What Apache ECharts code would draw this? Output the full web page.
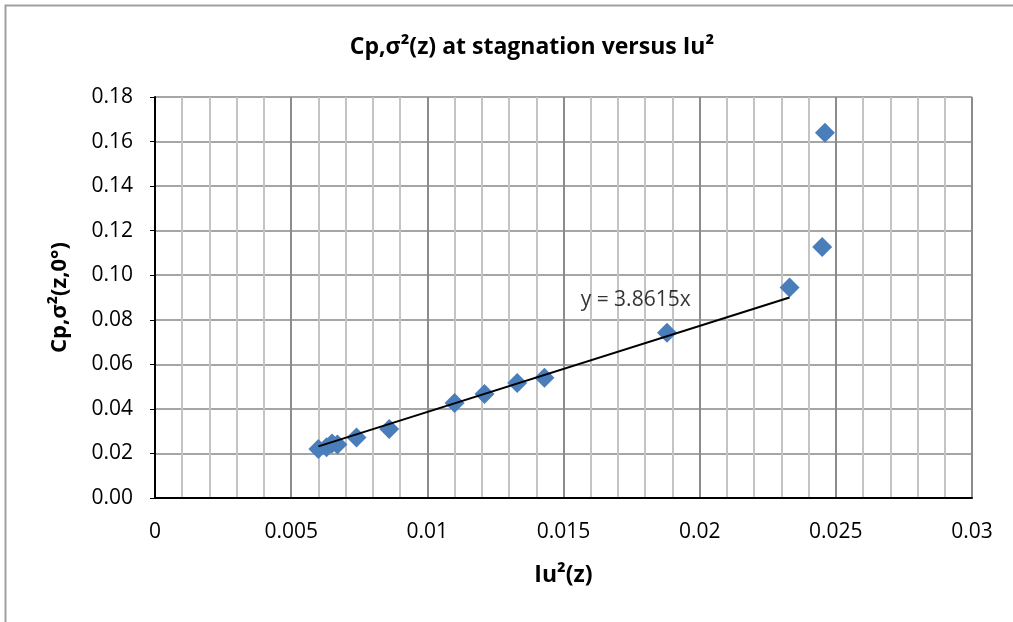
<!DOCTYPE html>
<html>
<head>
<meta charset="utf-8">
<script src="https://cdn.jsdelivr.net/npm/echarts@6/dist/echarts.min.js"></script>
<style>
html,body{margin:0;padding:0;background:#fff;}
#c{width:1013px;height:622px;}
</style>
</head>
<body>
<div id="c"></div>
<script>
// Data
var xValues = [0.0060, 0.0063, 0.0065, 0.0067, 0.0074, 0.0086, 0.0110, 0.0121, 0.0133, 0.0143, 0.0188, 0.0233, 0.0245, 0.0246];
var yValues = [0.0220, 0.0228, 0.0245, 0.0240, 0.0272, 0.0310, 0.0426, 0.0467, 0.0516, 0.0540, 0.0742, 0.0945, 0.1127, 0.1640];
var trendSlope = 3.8615;
var trendRange = [0.0060, 0.0233];
var trendLabel = 'y = 3.8615x';
var trendLabelAt = [0.01765, 0.0889];
var xTicks = [0, 0.005, 0.01, 0.015, 0.02, 0.025, 0.03];
var yTicks = [0, 0.02, 0.04, 0.06, 0.08, 0.10, 0.12, 0.14, 0.16, 0.18];

var points = xValues.map(function(x, i){ return [x, yValues[i]]; });
var trendData = trendRange.map(function(x){ return [x, trendSlope * x]; });

var font = 'Open Sans';
var chart = echarts.init(document.getElementById('c'));
chart.setOption({
  animation: false,
  backgroundColor: '#fff',
  graphic: [{
    type: 'rect', shape: {x: 5.5, y: 5.5, width: 1020, height: 640},
    style: {fill: 'none', stroke: '#a0a0a0', lineWidth: 2}, silent: true
  }],
  title: {
    text: 'Cp,σ²(z) at stagnation versus Iu²',
    left: 527, top: 31, textAlign: 'center',
    textStyle: {fontFamily: font, fontWeight: 'bold', fontSize: 23, color: '#000'}
  },
  grid: {left: 155, top: 97, right: 41, bottom: 124, containLabel: false},
  xAxis: {
    type: 'value', min: xTicks[0], max: xTicks[xTicks.length-1], interval: 0.005,
    name: 'Iu²(z)', nameLocation: 'middle', nameGap: 66,
    nameTextStyle: {fontFamily: font, fontWeight: 'bold', fontSize: 23, color: '#000'},
    axisLine: {show: true, lineStyle: {color: '#000', width: 2}},
    axisTick: {show: false},
    axisLabel: {fontFamily: font, fontSize: 21, color: '#000', margin: 24,
      formatter: function(v){ return String(parseFloat(v.toFixed(4))); }},
    splitLine: {show: true, lineStyle: {color: '#8c8c8c', width: 2}},
    minorTick: {show: false, splitNumber: 5},
    minorSplitLine: {show: true, lineStyle: {color: '#c4c4c4', width: 2}}
  },
  yAxis: {
    type: 'value', min: yTicks[0], max: yTicks[yTicks.length-1], interval: 0.02,
    name: 'Cp,σ²(z,0°)', nameLocation: 'middle', nameGap: 84, nameRotate: 90,
    nameTextStyle: {fontFamily: font, fontWeight: 'bold', fontSize: 22, color: '#000'},
    axisLine: {show: true, lineStyle: {color: '#000', width: 2}},
    axisTick: {show: true, length: 5, lineStyle: {color: '#000', width: 1}},
    axisLabel: {fontFamily: font, fontSize: 21, color: '#000', margin: 22,
      formatter: function(v){ return v.toFixed(2); }},
    splitLine: {show: true, lineStyle: {color: '#a6a6a6', width: 2}}
  },
  series: [
    {
      type: 'scatter', data: points, symbol: 'diamond', symbolSize: 20,
      itemStyle: {color: '#4A7EBB', opacity: 1}, z: 3
    },
    {
      type: 'line', data: trendData, showSymbol: false, symbol: 'none',
      lineStyle: {color: '#000', width: 2}, z: 4
    },
    {
      type: 'scatter', data: [trendLabelAt], symbolSize: 0, silent: true,
      label: {show: true, position: 'inside', formatter: trendLabel,
        fontFamily: font, fontSize: 21, color: '#000'}, z: 5
    }
  ]
});
</script>
</body>
</html>
